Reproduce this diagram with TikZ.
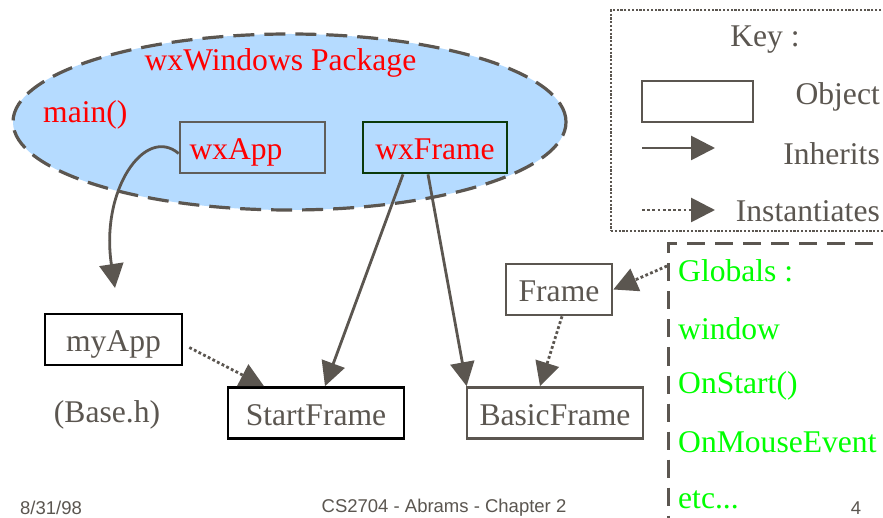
\documentclass[tikz,border=0pt]{standalone}
\usepackage{fontspec}
\setmainfont{Liberation Serif}
\setsansfont{Liberation Sans}
\usetikzlibrary{arrows.meta,shapes.geometric}
\definecolor{ink}{HTML}{5B5650}
\definecolor{bub}{HTML}{B5DBFF}
\definecolor{dgreen}{HTML}{0A3A0A}
\definecolor{gtext}{HTML}{00FF00}
\definecolor{rtext}{HTML}{FF0000}
\definecolor{boxgray}{HTML}{605E5A}
\tikzset{
  bigfont/.style={font=\fontsize{31.6}{36}\selectfont},
  obj/.style={draw, line width=2.7pt, minimum height=51pt, inner sep=0pt,
    text height=26pt, text depth=2pt, bigfont},
  inh/.style={draw=ink, line width=2.8pt, -{Triangle[length=24pt,width=24pt]}},
  inst/.style={draw=ink, line width=2.8pt, dash pattern=on 2.8pt off 2.4pt,
    -{Triangle[length=24pt,width=24pt]}},
  gtxt/.style={text=gtext, bigfont, anchor=west, inner sep=0pt},
  foot/.style={text=ink, font=\sffamily\fontsize{18.5}{20}\selectfont, inner sep=0pt}
}
\begin{document}
\begin{tikzpicture}[x=1pt,y=-1pt]
\useasboundingbox (0,0) rectangle (883,518);
\clip (0,0) rectangle (883,518);
\fill[white] (0,0) rectangle (883,518);

% package ellipse
\node[ellipse, draw=ink, fill=bub, line width=3.2pt, dash pattern=on 21pt off 10pt,
  minimum width=553pt, minimum height=176pt, inner sep=0pt] (pkg) at (289.5,122) {};
\node[text=rtext, bigfont, inner sep=0pt] (pkgtitle) at (280.5,63) {wxWindows Package};
\node[text=rtext, bigfont, inner sep=0pt, anchor=west] (mainlbl) at (43,115) {main()};

% objects
\node[obj, draw=boxgray, minimum width=145pt, text width=126pt, align=left, text=rtext]
  (wxapp) at (252.5,147.5) {wxApp};
\node[obj, draw=dgreen, minimum width=144pt, text=rtext] (wxframe) at (435,147.5) {wxFrame};
\node[obj, draw=black, minimum width=137pt, text=ink] (myapp) at (113.5,339.5) {myApp};
\node[text=ink, bigfont, inner sep=0pt] (baseh) at (107,415) {(Base.h)};
\node[obj, draw=black, minimum width=176pt, text=ink] (startframe) at (316,413) {StartFrame};
\node[obj, draw=ink, minimum width=176pt, text=ink] (basicframe) at (555,413) {BasicFrame};
\node[obj, draw=ink, minimum width=106pt, text=ink] (frame) at (559,289.5) {Frame};

% key
\node[draw=ink, line width=2.2pt, dash pattern=on 2.2pt off 1.6pt, minimum width=300pt,
  minimum height=221pt, inner sep=0pt] (keybox) at (761,120.5) {};
\node[text=ink, bigfont, inner sep=0pt] (keytitle) at (765,40) {Key :};
\node[draw=ink, line width=2.7pt, minimum width=111pt, minimum height=41pt, inner sep=0pt]
  (keyobj) at (697.5,101.5) {};
\node[text=ink, bigfont, inner sep=0pt, anchor=east] (keyobjlbl) at (880,97) {Object};
\coordinate (inhA) at (642,148);
\coordinate (inhB) at (715,148);
\draw[inh] (inhA) -- (inhB);
\node[text=ink, bigfont, inner sep=0pt, anchor=east] (keyinhlbl) at (880,154) {Inherits};
\coordinate (instA) at (642,210);
\coordinate (instB) at (715,210);
\draw[inst] (instA) -- (instB);
\node[text=ink, bigfont, inner sep=0pt, anchor=east] (keyinstlbl) at (880,211) {Instantiates};

% globals
\node[draw=ink, line width=3pt, dash pattern=on 18pt off 10pt, minimum width=260pt,
  minimum height=300pt, inner sep=0pt, anchor=north west] (globals) at (667,242) {};
\node[gtxt] (g1) at (678,271) {Globals :};
\node[gtxt] (g2) at (678,329) {window};
\node[gtxt] (g3) at (678,386) {OnStart()};
\node[gtxt] (g4) at (678,442) {OnMouseEvent};
\node[gtxt] (g5) at (678,500) {etc...};

% connectors
\coordinate (mainend) at (115,288);
\draw[inh] ([yshift=-6pt]wxapp.west) .. controls (145,125) and (100,190) .. (mainend);
\draw[inh] ([xshift=-32pt]wxframe.south) -- ([xshift=9pt]startframe.north);
\draw[inh] ([xshift=-7pt]wxframe.south) -- ([xshift=1pt]basicframe.north west);
\draw[inst] ([xshift=6pt,yshift=-8pt]myapp.east) -- ([xshift=-52pt]startframe.north);
\draw[inst] ([xshift=3pt]frame.south) -- ([xshift=-15pt]basicframe.north);
\draw[inst] ([yshift=-24pt]globals.north west) -- (frame.east);

% footer
\node[foot, anchor=west] (fdate) at (20,508) {8/31/98};
\node[foot] (ftitle) at (444,508) {CS2704 - Abrams - Chapter 2};
\node[foot] (fpage) at (856,508) {4};
\end{tikzpicture}
\end{document}
